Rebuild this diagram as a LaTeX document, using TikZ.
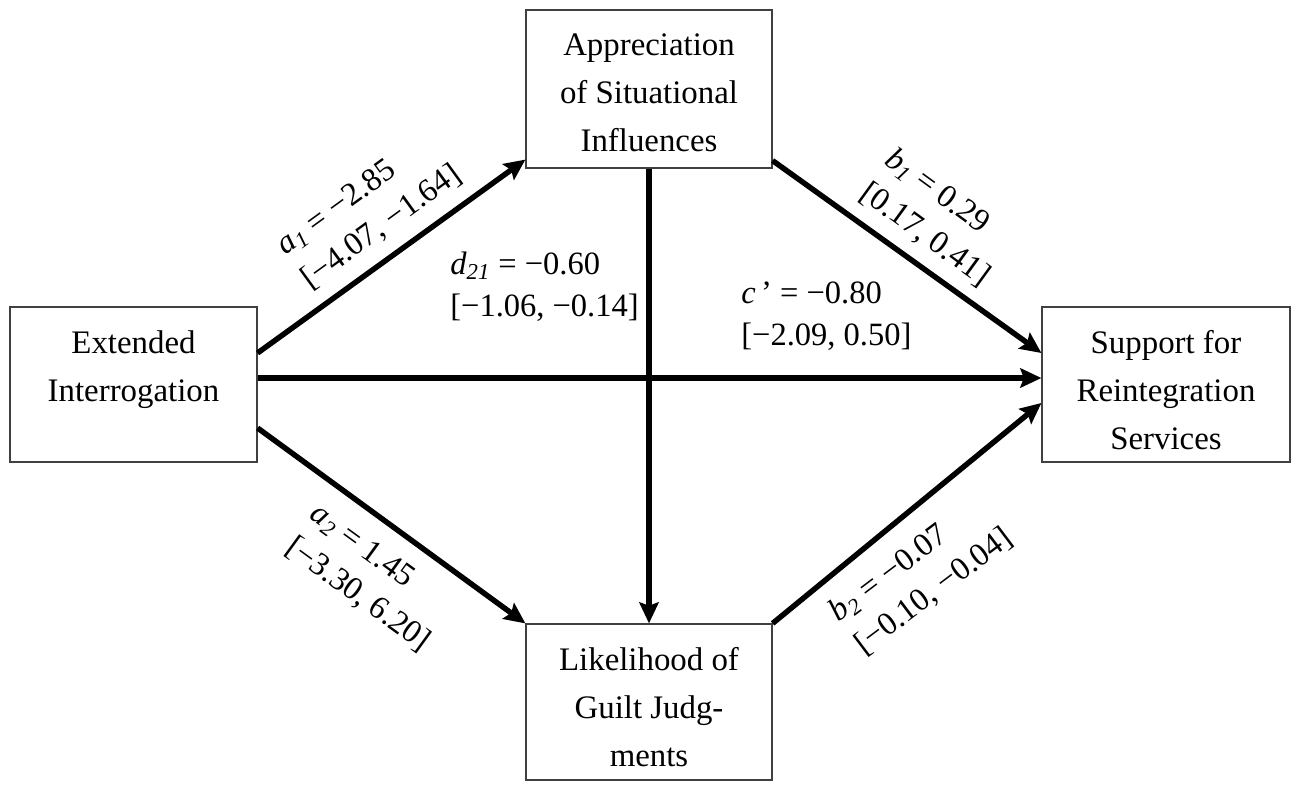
\documentclass[tikz,border=0pt]{standalone}
\usepackage{fontspec}
\setmainfont{Liberation Serif}
\usetikzlibrary{arrows.meta,calc,positioning}

\begin{document}
\begin{tikzpicture}[x=0.02cm,y=-0.02cm,
	box/.style={draw=black!75,line width=0.7pt,inner sep=0pt},
	boxtext/.style={align=center,inner sep=0pt,font=\fontsize{18.7}{27.3}\selectfont},
	arr/.style={line width=3.1pt,-{Stealth[length=12pt,width=11pt,inset=2pt]}},
	lbl/.style={align=left,anchor=west,inner sep=0pt,font=\fontsize{18.5}{23.8}\selectfont}]
\useasboundingbox (0,0) rectangle (1299,791);
% boxes
\node[box,minimum width=4.94cm,minimum height=3.1cm] (ext) at (133.5,384.5) {};
\node[box,minimum width=4.92cm,minimum height=3.16cm] (appr) at (649,89) {};
\node[box,minimum width=4.92cm,minimum height=3.12cm] (guilt) at (649,702) {};
\node[box,minimum width=4.96cm,minimum height=3.1cm] (supp) at (1166,384.5) {};
\node[boxtext,below=0.48cm of ext.north] (extT) {Extended\\Interrogation};
\node[boxtext,below=0.48cm of appr.north] (apprT) {Appreciation\\of Situational\\Influences};
\node[boxtext,below=0.48cm of guilt.north] (guiltT) {Likelihood of\\Guilt Judg-\\ments};
\node[boxtext,below=0.48cm of supp.north] (suppT) {Support for\\Reintegration\\Services};
% paths
\draw[arr] ($(ext.east)+(0,-31.5)$) -- ($(appr.south west)+(0,-9)$);
\draw[arr] ($(ext.east)+(0,-6.5)$) -- ($(supp.west)+(0,-6.5)$);
\draw[arr] ($(ext.east)+(0,43.5)$) -- (guilt.north west);
\draw[arr] (appr.south) -- (guilt.north);
\draw[arr] ($(appr.south east)+(0,-8)$) -- ($(supp.west)+(0,-31.5)$);
\draw[arr] (guilt.north east) -- ($(supp.west)+(0,18.5)$);
% coefficients
\node[lbl,rotate=36] (a1lbl) at (293,266) {\textit{a}\textsubscript{\textit{1}} = −2.85\\{}[−4.07, −1.64]};
\node[lbl,rotate=-36] (b1lbl) at (876,173) {\textit{b}\textsubscript{\textit{1}} = 0.29\\{}[0.17, 0.41]};
\node[lbl,rotate=-36] (a2lbl) at (301,528) {\textit{a}\textsubscript{\textit{2}} = 1.45\\{}[−3.30, 6.20]};
\node[lbl,rotate=37] (b2lbl) at (846,632) {\textit{b}\textsubscript{\textit{2}} = −0.07\\{}[−0.10, −0.04]};
\node[lbl] (dlbl) at (450,287) {\textit{d}\textsubscript{\textit{21}} = −0.60\\{}[−1.06, −0.14]};
\node[lbl] (clbl) at (741,316) {\textit{c}\,’ = −0.80\\{}[−2.09, 0.50]};
\end{tikzpicture}
\end{document}
